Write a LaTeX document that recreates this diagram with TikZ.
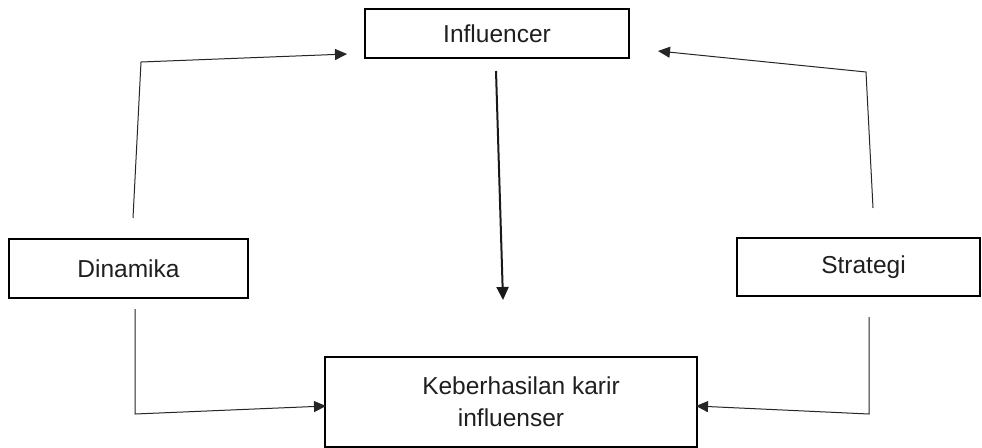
\documentclass[tikz,border=0pt]{standalone}
\usepackage{fontspec}
\setmainfont{Liberation Sans}
\usetikzlibrary{arrows.meta}
\begin{document}
\begin{tikzpicture}[x=1pt,y=1pt,
  box/.style={draw=black, line width=1.6pt, rectangle, inner sep=0pt, align=center,
    font=\fontsize{24.5}{32}\selectfont, text=black!88},
  conn/.style={draw=black!85, line width=1pt, -{Triangle[length=12pt,width=11pt]}},
  thick conn/.style={draw=black!90, line width=2pt, -{Triangle[length=13pt,width=12pt]}}]
\useasboundingbox (0,0) rectangle (982,-447);
\fill[white] (0,0) rectangle (982,-447);

\node[box, minimum width=264, minimum height=49] (inf) at (497,-33.5) {Influencer};
\node[box, minimum width=239, minimum height=59] (din) at (128.5,-268.5) {Dinamika};
\node[box, minimum width=243, minimum height=58] (str) at (858.5,-267) {\hspace*{10pt}Strategi};
\node[box, minimum width=372, minimum height=90] (keb) at (511,-402) {\hspace*{20pt}Keberhasilan karir\\influenser};

% free ends of connectors
\coordinate (dinUp) at (133,-218);
\coordinate (dinCorner) at (141,-62);
\coordinate (infL) at (347,-54);
\coordinate (strUp) at (873,-208);
\coordinate (strCorner) at (866,-72);
\coordinate (infR) at (658,-51);
\coordinate (infDown) at (496,-71);
\coordinate (kebTop) at (503,-300);
\coordinate (dinDown) at (135,-309);
\coordinate (dinCorner2) at (135,-414);
\coordinate (kebL) at (326,-406);
\coordinate (strDown) at (869,-317);
\coordinate (strCorner2) at (869,-414);
\coordinate (kebR) at (696,-406);

\draw[conn] (dinUp) -- (dinCorner) -- (infL);
\draw[conn] (strUp) -- (strCorner) -- (infR);
\draw[thick conn] (infDown) -- (kebTop);
\draw[conn] (dinDown) -- (dinCorner2) -- (kebL);
\draw[conn] (strDown) -- (strCorner2) -- (kebR);
\end{tikzpicture}
\end{document}
